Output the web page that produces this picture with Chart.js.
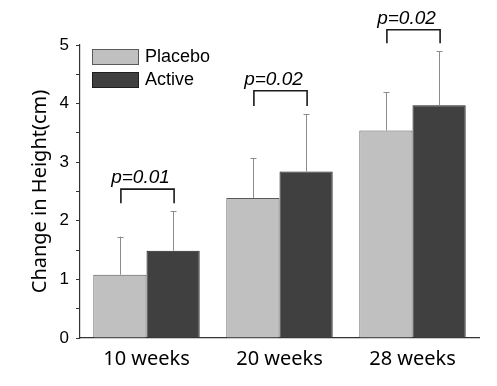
<!DOCTYPE html>
<html>
<head>
<meta charset="utf-8">
<script src="https://cdn.jsdelivr.net/npm/chart.js@4.4.0/dist/chart.umd.min.js"></script>
<style>
html,body{margin:0;padding:0;background:#fff;}
#wrap{width:497px;height:386px;}
</style>
</head>
<body>
<div id="wrap"><canvas id="c" width="497" height="386"></canvas></div>
<script>
// ---- data ----
const categories = ['10 weeks', '20 weeks', '28 weeks'];
const placebo = [1.08, 2.39, 3.54];
const active = [1.49, 2.84, 3.97];
const placeboErr = [0.65, 0.68, 0.65];
const activeErr = [0.67, 0.98, 0.92];
const pLabels = ['p=0.01', 'p=0.02', 'p=0.02'];
const bracketTop = [2.54, 4.22, 5.26];
const bracketLeg = [2.30, 3.96, 5.03];
const yTicksMajor = [0, 1, 2, 3, 4, 5];

const errors = [placeboErr, activeErr];

const errorBarPlugin = {
  id: 'errorBars',
  afterDatasetsDraw(chart) {
    const ctx = chart.ctx;
    const ys = chart.scales.y;
    ctx.save();
    ctx.strokeStyle = '#8c8c8c';
    ctx.lineWidth = 1;
    chart.data.datasets.forEach((ds, i) => {
      const meta = chart.getDatasetMeta(i);
      meta.data.forEach((el, j) => {
        const v = ds.data[j];
        const top = ys.getPixelForValue(v + errors[i][j]);
        const x = Math.round(el.x) + 0.5;
        ctx.beginPath();
        ctx.moveTo(x, el.y);
        ctx.lineTo(x, top);
        ctx.moveTo(x - 3, Math.round(top) + 0.5);
        ctx.lineTo(x + 3, Math.round(top) + 0.5);
        ctx.stroke();
      });
    });
    ctx.restore();
  }
};

const bracketPlugin = {
  id: 'brackets',
  afterDatasetsDraw(chart) {
    const ctx = chart.ctx;
    const ys = chart.scales.y;
    const m0 = chart.getDatasetMeta(0), m1 = chart.getDatasetMeta(1);
    ctx.save();
    ctx.strokeStyle = '#1a1a1a';
    ctx.lineWidth = 1.6;
    ctx.fillStyle = '#000';
    ctx.font = 'italic 19px "Liberation Sans", Arial, sans-serif';
    ctx.textAlign = 'center';
    ctx.textBaseline = 'alphabetic';
    categories.forEach((c, j) => {
      const x1 = m0.data[j].x + 1, x2 = m1.data[j].x + 1;
      const yt = ys.getPixelForValue(bracketTop[j]);
      const yl = ys.getPixelForValue(bracketLeg[j]);
      ctx.beginPath();
      ctx.moveTo(x1, yl);
      ctx.lineTo(x1, yt);
      ctx.lineTo(x2, yt);
      ctx.lineTo(x2, yl);
      ctx.stroke();
      ctx.fillText(pLabels[j], (x1 + x2) / 2 - 7, yt - 6);
    });
    ctx.restore();
  }
};

const legendPlugin = {
  id: 'insideLegend',
  afterDraw(chart) {
    const ctx = chart.ctx;
    const ca = chart.chartArea;
    ctx.save();
    ctx.font = '18px "Liberation Sans", Arial, sans-serif';
    ctx.textAlign = 'left';
    ctx.textBaseline = 'middle';
    chart.data.datasets.forEach((ds, i) => {
      const bx = ca.left + 12, by = ca.top + 4 + i * 23;
      ctx.fillStyle = ds.backgroundColor;
      ctx.fillRect(bx, by, 47, 16);
      ctx.strokeStyle = ds.borderColor;
      ctx.lineWidth = 1;
      ctx.strokeRect(bx + 0.5, by + 0.5, 46, 15);
      ctx.fillStyle = '#000';
      ctx.fillText(ds.label, bx + 53, by + 8.5);
    });
    ctx.restore();
  }
};

new Chart(document.getElementById('c'), {
  type: 'bar',
  data: {
    labels: categories,
    datasets: [
      { label: 'Placebo', data: placebo, backgroundColor: '#c0c0c0', borderColor: '#5a5a5a', borderWidth: 1 },
      { label: 'Active', data: active, backgroundColor: '#404040', borderColor: '#1e1e1e', borderWidth: 1 }
    ]
  },
  options: {
    responsive: false,
    animation: false,
    layout: { padding: { top: 45, right: 18, left: 0, bottom: 0 } },
    datasets: { bar: { categoryPercentage: 0.8, barPercentage: 1.0 } },
    plugins: { legend: { display: false }, tooltip: { enabled: false } },
    scales: {
      x: {
        grid: { display: true, drawOnChartArea: false, drawTicks: false },
        border: { display: true, color: '#333', width: 1.2 },
        ticks: { color: '#000', padding: 9, font: { family: '"Noto Sans", sans-serif', size: 20 } },
        afterFit(s) { s.height = 48; }
      },
      y: {
        min: 0, max: 5,
        grid: { display: true, drawOnChartArea: false, drawTicks: true, tickLength: 4, color: '#333' },
        border: { display: true, color: '#333', width: 1.2 },
        ticks: {
          stepSize: 0.5, autoSkip: false, padding: 7, color: '#000',
          font: { family: '"Liberation Sans", Arial, sans-serif', size: 17 },
          callback: (v) => yTicksMajor.includes(v) ? String(v) : ''
        },
        title: {
          display: true, text: 'Change in Height(cm)', color: '#000',
          font: { family: '"Noto Sans", sans-serif', size: 20 },
          padding: { top: 28, bottom: 0 }
        },
        afterFit(s) { s.width = 80; }
      }
    }
  },
  plugins: [errorBarPlugin, bracketPlugin, legendPlugin]
});
</script>
</body>
</html>
